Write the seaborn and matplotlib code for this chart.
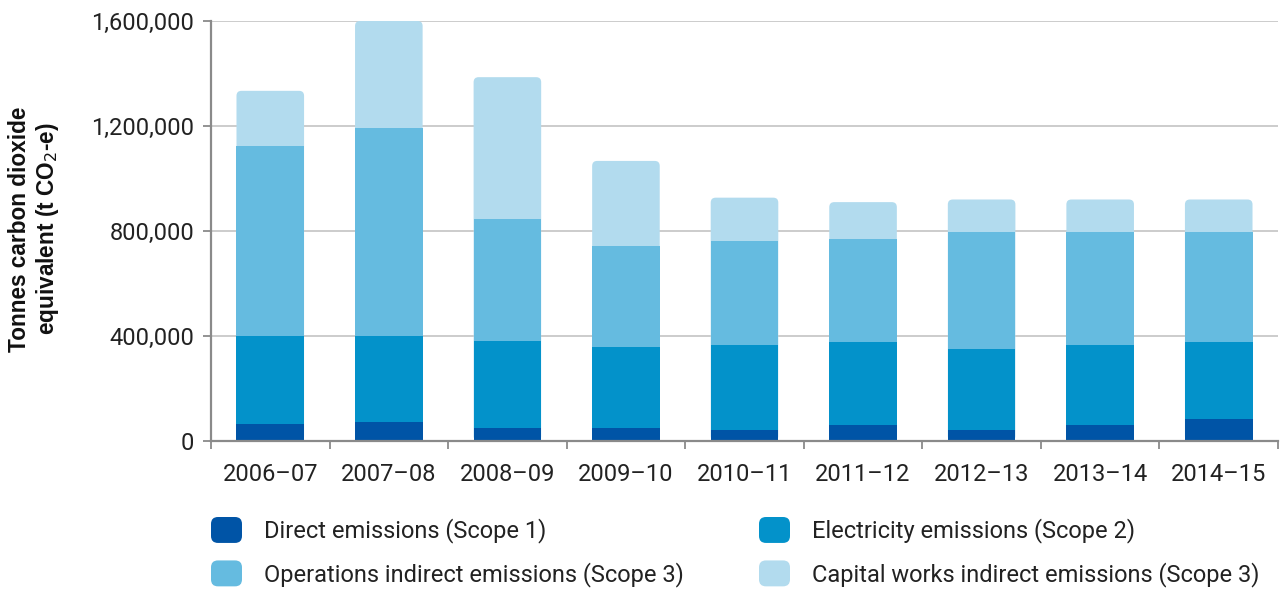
import numpy as np
import pandas as pd
import matplotlib
matplotlib.use("Agg")
import matplotlib.pyplot as plt
import seaborn as sns
from matplotlib.patches import FancyBboxPatch
from matplotlib.legend_handler import HandlerPatch
from matplotlib.patches import Patch
from matplotlib.ticker import FuncFormatter, FixedLocator

years = ["2006–07", "2007–08", "2008–09", "2009–10", "2010–11",
         "2011–12", "2012–13", "2013–14", "2014–15"]
scope1 = [65000, 74000, 51000, 48000, 41000, 60000, 41000, 60000, 83000]
scope2 = [335000, 326000, 331000, 309000, 323000, 316000, 308000, 304000, 293000]
ops_scope3 = [724000, 793000, 463000, 384000, 396000, 392000, 446000, 431000, 419000]
capital_scope3 = [210000, 407000, 541000, 326000, 167000, 142000, 125000, 125000, 125000]

labels = ["Direct emissions (Scope 1)", "Electricity emissions (Scope 2)",
          "Operations indirect emissions (Scope 3)", "Capital works indirect emissions (Scope 3)"]
colors = ["#0054A6", "#0392CA", "#65BBE0", "#B2DBEE"]

df = pd.DataFrame({"year": years, "s1": scope1, "s2": scope2,
                   "ops": ops_scope3, "cap": capital_scope3})
df["c1"] = df["s1"]
df["c2"] = df["c1"] + df["s2"]
df["c3"] = df["c2"] + df["ops"]
df["c4"] = df["c3"] + df["cap"]

sns.set_theme(style="white")
plt.rcParams["font.family"] = ["Roboto", "DejaVu Sans"]

FS = 17
TXT = "#222222"

fig = plt.figure(figsize=(12.84, 5.92), dpi=100)
ax = fig.add_axes([211/1284, 1-441/592, (1278-211)/1284, 420/592])

W = 0.57
order = [("c4", colors[3]), ("c3", colors[2]), ("c2", colors[1]), ("c1", colors[0])]
for col, c in order:
    sns.barplot(data=df, x="year", y=col, color=c, width=W, saturation=1,
                ax=ax, linewidth=0, zorder=3, errorbar=None)

ax.set_xlim(-0.5, 8.5)
ax.set_ylim(0, 1600000)

# round the tops of the total bars
xpp = 9 / 1067.0
ypp = 1600000 / 420.0
aspect = ypp / xpp
tops = list(ax.patches[:len(years)])
for p in tops:
    x0, y0 = p.get_x(), p.get_y()
    w, h = p.get_width(), p.get_height()
    fb = FancyBboxPatch((x0, y0), w, h,
                        boxstyle=f"round,pad=0,rounding_size={5*xpp}",
                        mutation_aspect=aspect, facecolor=p.get_facecolor(),
                        edgecolor="none", linewidth=0, zorder=2.9)
    p.remove()
    ax.add_patch(fb)

ax.set_yticks([0, 400000, 800000, 1200000, 1600000])
ax.yaxis.set_major_formatter(FuncFormatter(lambda v, pos: f"{int(v):,}"))
ax.grid(axis="y", color="#c8c8c8", linewidth=1.3, zorder=0)
ax.set_axisbelow(True)

for s in ["top", "right"]:
    ax.spines[s].set_visible(False)
for s in ["left", "bottom"]:
    ax.spines[s].set_color("#8a8a8a")
    ax.spines[s].set_linewidth(1.6)
    ax.spines[s].set_zorder(4)

ax.tick_params(axis="y", which="major", length=6, width=1.3, color="#8a8a8a",
               labelsize=FS, labelcolor=TXT, pad=6, left=True)
ax.tick_params(axis="x", which="major", length=0, labelsize=FS,
               labelcolor=TXT, pad=16)
ax.xaxis.set_minor_locator(FixedLocator(np.arange(-0.5, 9.0, 1.0)))
ax.tick_params(axis="x", which="minor", length=6, width=1.3, color="#8a8a8a",
               bottom=True, direction="out")
ax.set_xlabel("")
ax.set_ylabel("")

fig.text(35/1284, 1-229/592, "Tonnes carbon dioxide\nequivalent (t CO$_2$-e)",
         rotation=90, ha="center", va="center", fontsize=16.3, fontweight="bold",
         family=["Liberation Sans", "DejaVu Sans"],
         color="#111111", multialignment="center", linespacing=1.15)

class RoundHandler(HandlerPatch):
    def create_artists(self, legend, orig_handle, xdescent, ydescent, width, height, fontsize, trans):
        p = FancyBboxPatch((-xdescent, -ydescent), width, height,
                           boxstyle="round,pad=0,rounding_size=5",
                           facecolor=orig_handle.get_facecolor(), edgecolor="none",
                           transform=trans)
        return [p]

fpx = FS * 100 / 72.0
hsize = 31 / fpx
common = dict(loc="upper left", frameon=False, fontsize=FS, handlelength=hsize,
              handleheight=hsize, handletextpad=22 / fpx, labelspacing=17 / fpx,
              borderpad=0, borderaxespad=0, handler_map={Patch: RoundHandler()},
              labelcolor=TXT)
leg1 = fig.legend([Patch(facecolor=colors[0]), Patch(facecolor=colors[2])],
                  [labels[0], labels[2]], bbox_to_anchor=(211/1284, 1-517/592), **common)
leg2 = fig.legend([Patch(facecolor=colors[1]), Patch(facecolor=colors[3])],
                  [labels[1], labels[3]], bbox_to_anchor=(759/1284, 1-517/592), **common)

fig.savefig("out.png", dpi=100)
